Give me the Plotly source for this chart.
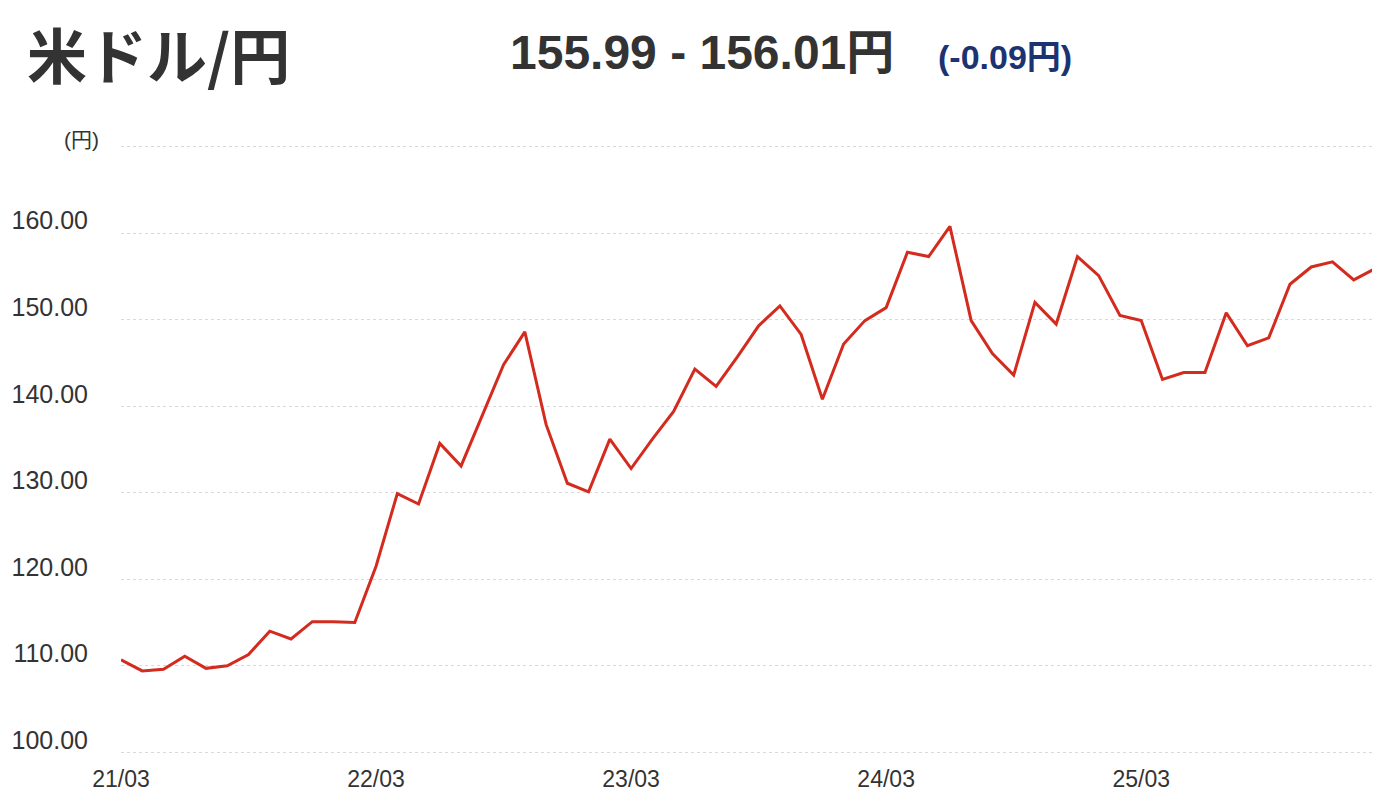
import plotly.graph_objects as go

months = [f"{y}-{m:02d}" for y in range(2021, 2027) for m in range(1, 13)]
months = months[months.index("2021-03"):months.index("2026-02") + 1]

usdjpy = [110.7, 109.4, 109.6, 111.1, 109.7, 110.0, 111.3, 114.0, 113.1, 115.1,
          115.1, 115.0, 121.5, 129.9, 128.7, 135.7, 133.1, 139.0, 144.8, 148.6,
          137.9, 131.1, 130.1, 136.2, 132.8, 136.2, 139.4, 144.3, 142.3, 145.7,
          149.3, 151.6, 148.3, 140.8, 147.2, 149.9, 151.4, 157.8, 157.3, 160.8,
          149.9, 146.1, 143.6, 152.0, 149.5, 157.3, 155.1, 150.5, 149.9, 143.1,
          143.9, 143.9, 150.8, 147.0, 147.9, 154.1, 156.1, 156.7, 154.6, 155.9]

x_tick_vals = ["2021-03", "2022-03", "2023-03", "2024-03", "2025-03"]
x_tick_text = ["21/03", "22/03", "23/03", "24/03", "25/03"]
y_tick_vals = [100, 110, 120, 130, 140, 150, 160, 170]
y_tick_text = ["100.00", "110.00", "120.00", "130.00", "140.00", "150.00", "160.00", ""]

title_text = "米ドル/円"
range_text = "155.99 - 156.01円"
change_text = "(-0.09円)"
unit_text = "(円)"

# the page body adds an 8px offset, so the figure is sized to fit inside it
OFF = 8
W, H = 1380 - OFF, 802 - OFF
L, R, T, B = 113, 5, 137, 48
PW, PH = W - L - R, H - T - B

def px(x):
    return (x - OFF - L) / PW

def py(y):
    return (H - B - (y - OFF)) / PH

fig = go.Figure()
fig.add_trace(go.Scatter(
    x=months, y=usdjpy, mode="lines",
    line=dict(color="#d42b1f", width=3),
    hoverinfo="skip", showlegend=False,
))

jp = "Noto Sans CJK JP"
num = "Liberation Sans, Noto Sans CJK JP"

fig.update_layout(
    width=W, height=H,
    margin=dict(l=L, r=R, t=T, b=B, autoexpand=False),
    paper_bgcolor="white", plot_bgcolor="white",
    xaxis=dict(
        type="category", range=[0, len(months) - 1],
        tickmode="array", tickvals=x_tick_vals, ticktext=x_tick_text,
        showgrid=False, zeroline=False, showline=False, ticks="",
        tickfont=dict(family=num, size=23, color="#333333"),
        ticklabelstandoff=9, automargin=False,
    ),
    yaxis=dict(
        range=[99.8, 170.2],
        tickmode="array", tickvals=y_tick_vals, ticktext=y_tick_text,
        showgrid=True, gridcolor="#d9d9d9", griddash="dot", gridwidth=1,
        zeroline=False, showline=False, ticks="",
        tickfont=dict(family=num, size=25, color="#333333"),
        ticklabelposition="outside top",
        ticklabelstandoff=32, ticklabelshift=5, automargin=False,
    ),
    annotations=[
        dict(text=title_text, x=px(26), y=py(8), xref="paper", yref="paper",
             xanchor="left", yanchor="top", showarrow=False, borderpad=0,
             font=dict(family=jp, size=60, color="#333333", weight="bold")),
        dict(text=range_text, x=px(508), y=py(53), xref="paper", yref="paper",
             xanchor="left", yanchor="middle", showarrow=False,
             font=dict(family=num, size=48, color="#333333", weight="bold")),
        dict(text=change_text, x=px(936), y=py(57), xref="paper", yref="paper",
             xanchor="left", yanchor="middle", showarrow=False,
             font=dict(family=num, size=34, color="#1c3372", weight="bold")),
        dict(text=unit_text, x=px(101), y=py(140), xref="paper", yref="paper",
             xanchor="right", yanchor="middle", showarrow=False,
             font=dict(family=num, size=21, color="#333333")),
    ],
)

fig.write_html("out.html")
